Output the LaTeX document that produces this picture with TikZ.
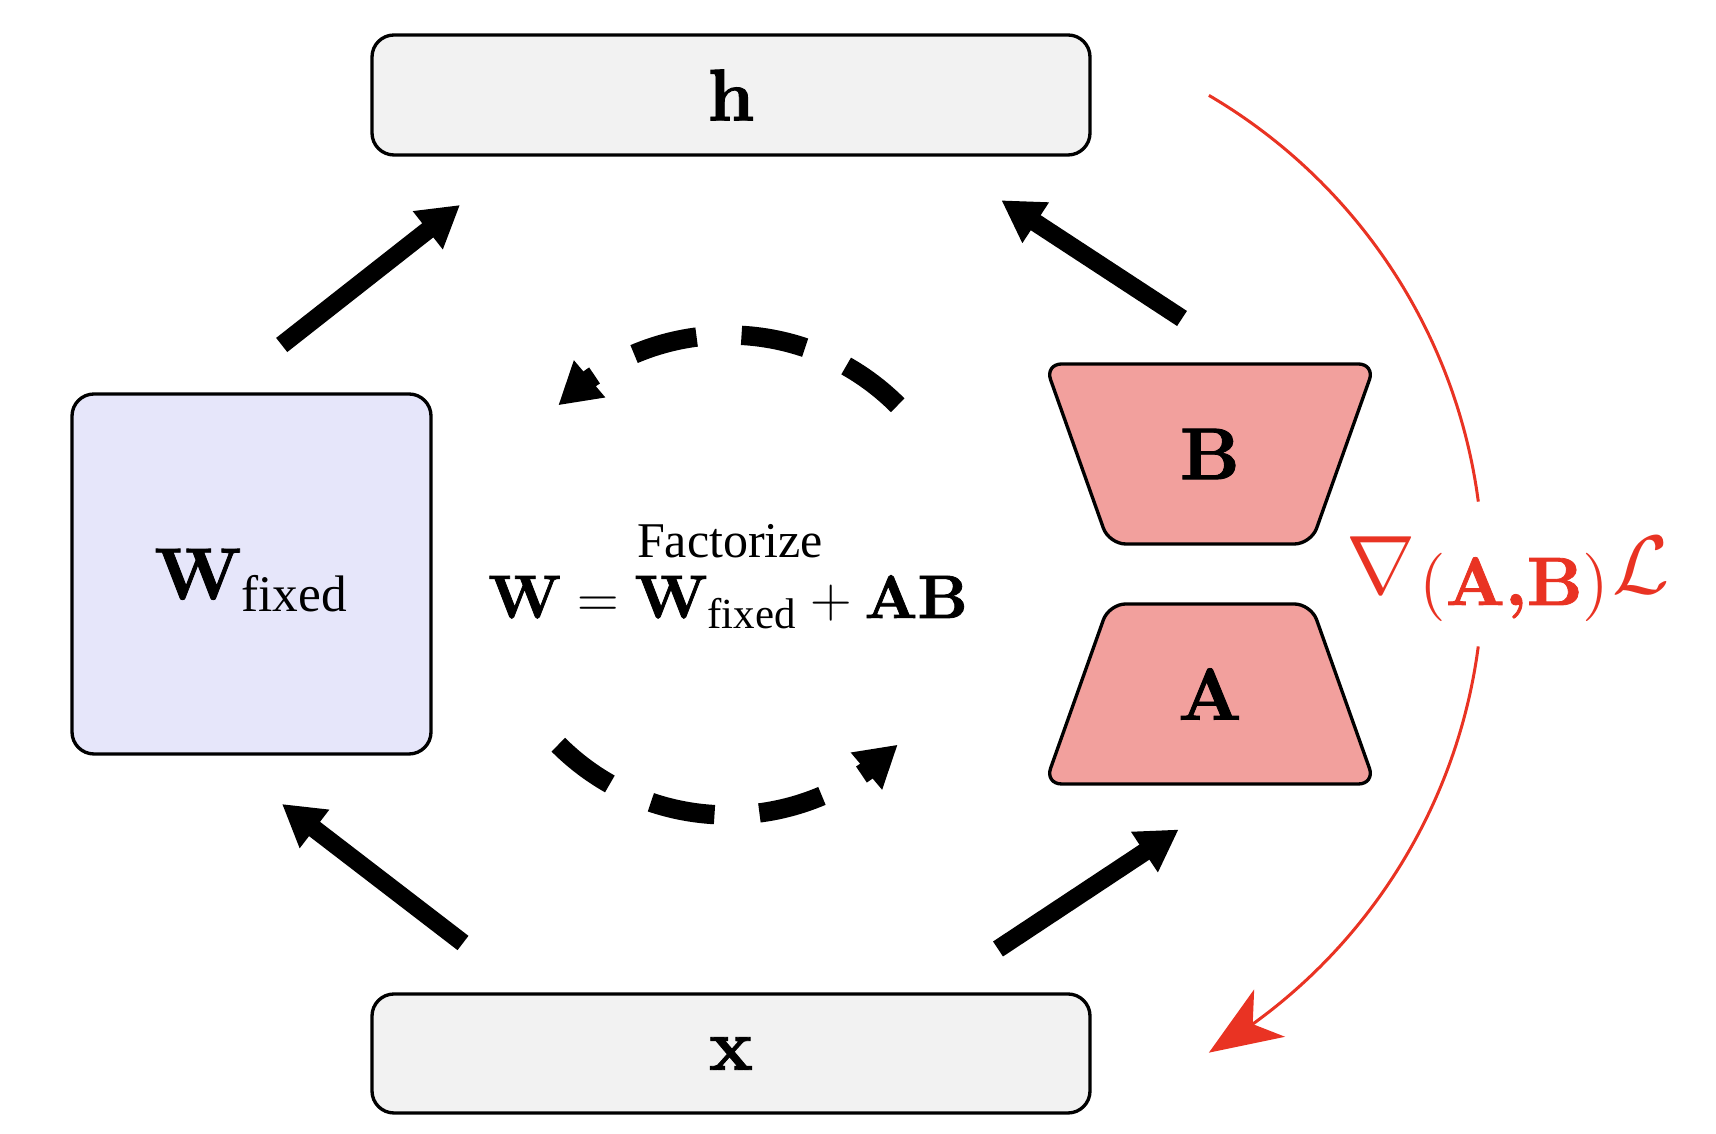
\documentclass[tikz,border=0pt]{standalone}
\usepackage{amsmath}
\usepackage{fontspec}
\newfontfamily\timesf{Liberation Serif}
\newfontfamily\lmbx{lmroman10-bold}[Extension=.otf,FakeBold=1.2]
\newfontfamily\lmrm{lmroman10-regular}[Extension=.otf]
\newcommand{\bv}[1]{\text{\lmbx #1}}
\usetikzlibrary{arrows.meta,bending}
\definecolor{boxgray}{HTML}{F2F2F2}
\definecolor{lav}{HTML}{E6E6FA}
\definecolor{salmonfill}{HTML}{F2A09D}
\definecolor{gradred}{HTML}{E93323}
\begin{document}
\begin{tikzpicture}[x=0.3pt,y=0.3pt,
  vecbox/.style={draw=black, line width=1pt, fill=boxgray, rounded corners=6.6pt,
    minimum width=215.4pt, minimum height=36pt, inner sep=0pt},
  wbox/.style={draw=black, line width=1pt, fill=lav, rounded corners=6.6pt,
    minimum width=107.7pt, minimum height=108pt, inner sep=0pt, text depth=0pt},
  lowrank/.style={draw=black, line width=1pt, fill=salmonfill, rounded corners=5pt},
  bigtext/.style={font=\fontsize{22}{26}\selectfont},
  flow/.style={line width=5.4pt, -{Triangle[length=12.3pt,width=13.7pt]}},
  loopflow/.style={line width=5.8pt, dash pattern=on 19.5pt off 13.5pt,
    -{Triangle[length=12.3pt,width=13.7pt]}},
  grad/.style={draw=gradred, line width=0.9pt}]
\useasboundingbox (0,0) rectangle (1716,1134);

% boxes
\node[vecbox, bigtext] (h) at (731,1039) {$\bv{h}$};
\node[vecbox, bigtext, minimum height=35.7pt] (x) at (731,80.5) {$\bv{x}$};
\node[wbox, bigtext] (wf) at (251.5,560) {$\bv{W}_{\text{\timesf fixed}}$};

% low-rank factors
\path[lowrank] (1045,770) -- (1375,770) -- (1311,590) -- (1109,590) -- cycle;
\node[bigtext] (B) at (1210,680) {$\bv{B}$};
\path[lowrank] (1045,350) -- (1375,350) -- (1311,530) -- (1109,530) -- cycle;
\node[bigtext] (A) at (1210,440) {$\bv{A}$};

% centre text
\node[anchor=base, font=\timesf\fontsize{15}{18}\selectfont] (fact) at (730,576) {Factorize};
\node[anchor=base, font=\fontsize{18.4}{22}\selectfont] (eq) at (728,516)
  {$\bv{W} = \bv{W}_{\text{\timesf fixed}} + \bv{AB}$};

% straight flows
\coordinate (f1s) at (281.7,789);  \coordinate (f1e) at (460,929);
\coordinate (f2s) at (1182,815.5); \coordinate (f2e) at (1001.4,933.7);
\coordinate (f3s) at (463,191);    \coordinate (f3e) at (282,330);
\coordinate (f4s) at (998,185);    \coordinate (f4e) at (1178.6,304.5);
\draw[flow] (f1s) -- (f1e);
\draw[flow] (f2s) -- (f2e);
\draw[flow] (f3s) -- (f3e);
\draw[flow] (f4s) -- (f4e);

% dashed loop
\coordinate (u0) at (897.7,728.7);
\draw[loopflow] (u0) arc[start angle=45, end angle=135, radius=240];
\coordinate (l0) at (558.3,389.3);
\draw[loopflow] (l0) arc[start angle=225, end angle=315, radius=240];

% gradient arc
\coordinate (g0) at (1208.9,1038.6);
\coordinate (g1) at (1478.25,487.56);
\draw[grad] (g0) arc[start angle=59.6, end angle=7.5, radius=555];
\draw[grad, -{Stealth[length=21.7pt,width=16.9pt,inset=6pt]}]
  (g1) arc[start angle=-7.5, end angle=-59.6, radius=555];
\node[anchor=base west, inner sep=0pt, text=gradred, font=\fontsize{27}{31}\selectfont]
  (gl) at (1346,540)
  {$\nabla$\kern1pt\raisebox{-3.3pt}{\fontsize{20.5}{24}\selectfont\lmrm(\lmbx A,B\lmrm)}\kern1pt$\mathcal{L}$};
\end{tikzpicture}
\end{document}
